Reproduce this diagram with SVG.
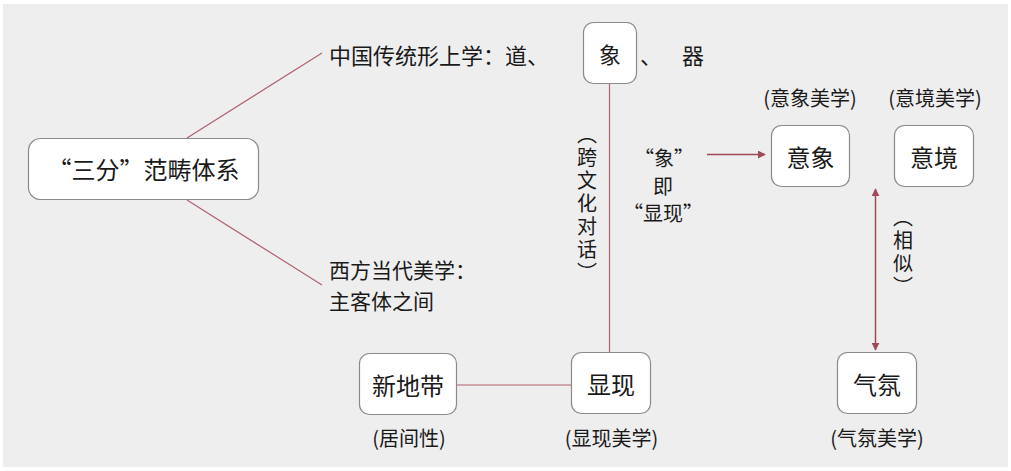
<svg xmlns="http://www.w3.org/2000/svg" width="1011" height="471" viewBox="0 0 1011 471">
  <style>
    .box { fill: #ffffff; stroke: #8a8a8a; stroke-width: 1.2; }
    .t { font-family: "Noto Sans CJK SC", "Noto Sans", sans-serif; fill: #1a1a1a; }
    .node { font-size: 24px; text-anchor: middle; dominant-baseline: central; }
    .lab { font-size: 20px; text-anchor: middle; dominant-baseline: central; }
    .left { font-size: 22px; dominant-baseline: central; }
    .vert { font-size: 20px; writing-mode: vertical-rl; text-anchor: middle; letter-spacing: 3px; }
    .conn { stroke: #b0626e; stroke-width: 1.2; fill: none; }
    .arr { stroke: #a04a58; stroke-width: 1.5; fill: none; }
  </style>
  <defs>
    <marker id="ah" viewBox="0 0 10 10" refX="9" refY="5" markerWidth="8" markerHeight="8" markerUnits="userSpaceOnUse" orient="auto-start-reverse">
      <path d="M0,0 L10,5 L0,10 Z" fill="#a04a58"/>
    </marker>
  </defs>
  <rect x="0" y="0" width="1011" height="471" fill="#ffffff"/>
  <rect x="3" y="4" width="1005" height="463" fill="#eeeeee"/>

  <g id="connectors">
    <line class="conn" x1="187" y1="138" x2="322" y2="53"/>
    <line class="conn" x1="187" y1="200" x2="322" y2="285"/>
    <line class="conn" x1="609.5" y1="83" x2="609.5" y2="352"/>
    <line class="conn" x1="456" y1="385" x2="572" y2="385"/>
    <line class="arr" x1="707" y1="154.5" x2="765" y2="154.5" marker-end="url(#ah)"/>
    <line class="arr" x1="875.5" y1="189" x2="875.5" y2="350" marker-start="url(#ah)" marker-end="url(#ah)"/>
  </g>

  <g id="sanfen">
    <rect class="box" x="28.5" y="138.5" width="230" height="61" rx="12"/>
    <text class="t node" x="143.5" y="168">“三分”范畴体系</text>
  </g>

  <g id="chinese-metaphysics">
    <text class="t left" x="329" y="54">中国传统形上学：道、</text>
    <text class="t left" x="640" y="54">、</text>
    <text class="t left" x="682" y="54">器</text>
  </g>

  <g id="xiang">
    <rect class="box" x="583.5" y="22.5" width="53" height="61" rx="10"/>
    <text class="t node" x="610" y="52.5" style="font-size:22px">象</text>
  </g>

  <g id="western-aesthetics">
    <text class="t left" x="329" y="269" style="font-size:21px">西方当代美学：</text>
    <text class="t left" x="329" y="300" style="font-size:21px">主客体之间</text>
  </g>

  <g id="cross-cultural">
    <text class="t vert" x="587" y="205">（跨文化对话）</text>
  </g>

  <g id="xiang-is-xianxian">
    <text class="t lab" x="664" y="157">“象”</text>
    <text class="t lab" x="663" y="185">即</text>
    <text class="t lab" x="663" y="212">“显现”</text>
  </g>

  <g id="yixiang">
    <text class="t lab" x="810" y="97">(意象美学)</text>
    <rect class="box" x="771.5" y="125.5" width="78" height="61" rx="10"/>
    <text class="t node" x="810.5" y="156">意象</text>
  </g>

  <g id="yijing">
    <text class="t lab" x="935" y="97">(意境美学)</text>
    <rect class="box" x="894.5" y="125.5" width="79" height="61" rx="10"/>
    <text class="t node" x="934" y="156">意境</text>
  </g>

  <g id="similar">
    <text class="t vert" x="903" y="253">（相似）</text>
  </g>

  <g id="qifen">
    <rect class="box" x="837.5" y="352.5" width="79" height="61" rx="10"/>
    <text class="t node" x="877" y="383">气氛</text>
    <text class="t lab" x="877" y="437">(气氛美学)</text>
  </g>

  <g id="xiandidai">
    <rect class="box" x="359.5" y="353.5" width="97" height="61" rx="10"/>
    <text class="t node" x="408" y="384">新地带</text>
    <text class="t lab" x="409" y="437">(居间性)</text>
  </g>

  <g id="xianxian">
    <rect class="box" x="571.5" y="352.5" width="79" height="61" rx="10"/>
    <text class="t node" x="611" y="383">显现</text>
    <text class="t lab" x="611.5" y="437">(显现美学)</text>
  </g>
</svg>
